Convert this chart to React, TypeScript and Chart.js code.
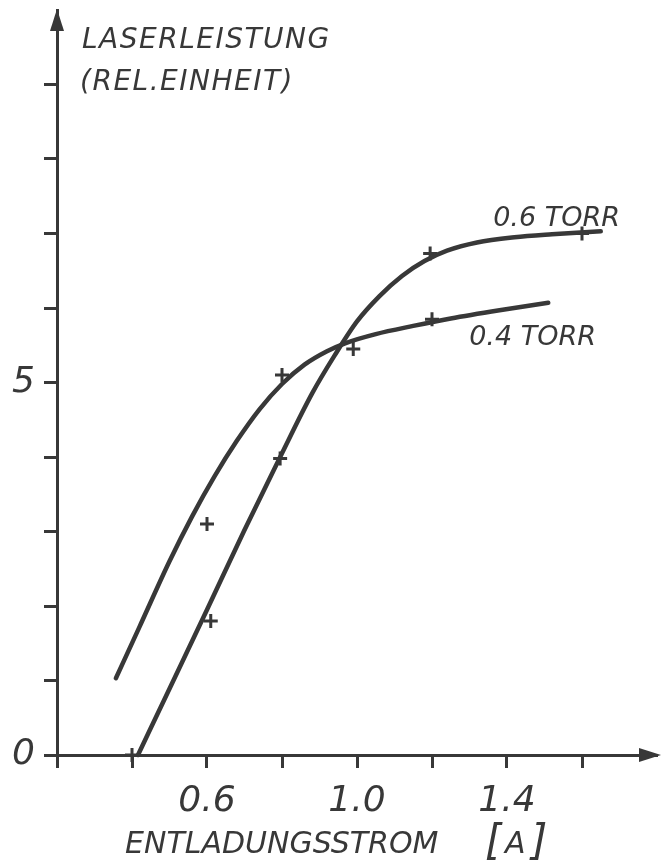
import React, { useEffect, useRef } from 'react';
import { Chart, registerables } from 'chart.js';

Chart.register(...registerables);

const INK = '#383838';
const FONT = '"DejaVu Sans", "Liberation Sans", sans-serif';

// Axis tick labels that carry text
const xTickLabels = [0.6, 1.0, 1.4];
const yTickLabels = [0, 5];

// Hand-drawn fit curves
const curve04X = [0.357, 0.42, 0.5, 0.56, 0.62, 0.68, 0.74, 0.8, 0.86, 0.92, 0.97, 1.05, 1.15, 1.25, 1.38, 1.51];
const curve04Y = [1.03, 1.72, 2.6, 3.2, 3.74, 4.22, 4.64, 4.98, 5.24, 5.42, 5.53, 5.65, 5.76, 5.86, 5.97, 6.07];

const curve06X = [0.416, 0.5, 0.6, 0.7, 0.8, 0.88, 0.94, 1.0, 1.06, 1.12, 1.18, 1.24, 1.32, 1.42, 1.52, 1.65];
const curve06Y = [0.0, 0.89, 1.95, 3.02, 4.05, 4.85, 5.36, 5.82, 6.16, 6.43, 6.63, 6.77, 6.88, 6.95, 6.99, 7.03];

// Measured points (+ marks)
const marks04X = [0.6, 0.8, 0.99, 1.2];
const marks04Y = [3.1, 5.1, 5.45, 5.85];
const marks06X = [0.4, 0.61, 0.795, 1.195, 1.6];
const marks06Y = [0.0, 1.8, 3.98, 6.73, 7.0];

const seriesNames = ['0.4 TORR', '0.6 TORR'];
const yTitle = ['LASERLEISTUNG', '(REL.EINHEIT)'];
const xTitle = 'ENTLADUNGSSTROM';
const xUnit = 'A';

const zip = (xs: number[], ys: number[]) => xs.map((x, i) => ({ x, y: ys[i] }));
const near = (list: number[], v: number) => list.some((t) => Math.abs(t - v) < 1e-6);

const decor = {
  id: 'decor',
  afterDraw(chart: any) {
    const { ctx, chartArea: a, scales } = chart;
    const x = scales.x;
    const y = scales.y;
    ctx.save();
    ctx.fillStyle = INK;
    // arrow heads
    ctx.beginPath();
    ctx.moveTo(a.left, a.top - 1);
    ctx.lineTo(a.left - 7, a.top + 21);
    ctx.lineTo(a.left + 7, a.top + 21);
    ctx.closePath();
    ctx.fill();
    ctx.beginPath();
    ctx.moveTo(a.right + 4, a.bottom);
    ctx.lineTo(a.right - 18, a.bottom - 7);
    ctx.lineTo(a.right - 18, a.bottom + 7);
    ctx.closePath();
    ctx.fill();

    ctx.textBaseline = 'alphabetic';
    ctx.textAlign = 'left';
    const setSpacing = (s: string) => {
      if ('letterSpacing' in ctx) (ctx as any).letterSpacing = s;
    };

    // y title
    ctx.font = `italic 28px ${FONT}`;
    setSpacing('1.5px');
    ctx.fillText(yTitle[0], a.left + 25, a.top + 38);
    ctx.fillText(yTitle[1], a.left + 23, a.top + 80);

    // series labels
    setSpacing('0px');
    ctx.font = `italic 27px ${FONT}`;
    ctx.fillText(seriesNames[1], x.getPixelForValue(1.363), y.getPixelForValue(7.107));
    ctx.fillText(seriesNames[0], x.getPixelForValue(1.299), y.getPixelForValue(5.507));

    // x title
    ctx.font = `italic 30px ${FONT}`;
    ctx.fillText(xTitle, a.left + 68, a.bottom + 98);
    const ux = x.getPixelForValue(1.341);
    ctx.font = `italic 42px ${FONT}`;
    ctx.fillText('[', ux, a.bottom + 100);
    ctx.font = `italic 30px ${FONT}`;
    ctx.fillText(xUnit, ux + 20, a.bottom + 98);
    ctx.font = `italic 42px ${FONT}`;
    ctx.fillText(']', ux + 46, a.bottom + 100);
    ctx.restore();
  },
};

export default function App() {
  const ref = useRef<HTMLCanvasElement | null>(null);

  useEffect(() => {
    if (!ref.current) return;
    const tickFont = { family: 'DejaVu Sans', size: 36, style: 'italic' as const };
    const chart = new Chart(ref.current, {
      type: 'scatter',
      data: {
        datasets: [
          {
            label: seriesNames[0],
            data: zip(curve04X, curve04Y),
            showLine: true,
            borderColor: INK,
            borderWidth: 4.5,
            pointRadius: 0,
            cubicInterpolationMode: 'monotone',
            borderCapStyle: 'round',
            clip: false,
          } as any,
          {
            label: seriesNames[1],
            data: zip(curve06X, curve06Y),
            showLine: true,
            borderColor: INK,
            borderWidth: 4.5,
            pointRadius: 0,
            cubicInterpolationMode: 'monotone',
            borderCapStyle: 'round',
            clip: false,
          } as any,
          {
            label: seriesNames[0] + ' points',
            data: zip(marks04X, marks04Y),
            showLine: false,
            pointStyle: 'cross',
            pointRadius: 7,
            pointBorderWidth: 3,
            borderColor: INK,
            clip: false,
          } as any,
          {
            label: seriesNames[1] + ' points',
            data: zip(marks06X, marks06Y),
            showLine: false,
            pointStyle: 'cross',
            pointRadius: 7,
            pointBorderWidth: 3,
            borderColor: INK,
            clip: false,
          } as any,
        ],
      },
      options: {
        animation: false,
        responsive: false,
        devicePixelRatio: 1,
        events: [],
        layout: { padding: { top: 5, right: 13, left: 0, bottom: 0 } },
        plugins: { legend: { display: false }, tooltip: { enabled: false } },
        scales: {
          x: {
            type: 'linear',
            min: 0.2,
            max: 1.8,
            afterFit: (s: any) => {
              s.height = 110;
              s.paddingLeft = 0;
              s.paddingRight = 0;
            },
            ticks: {
              stepSize: 0.2,
              autoSkip: false,
              maxRotation: 0,
              minRotation: 0,
              padding: 12,
              color: INK,
              font: tickFont,
              callback: (v: any) => (near(xTickLabels, Number(v)) ? Number(v).toFixed(1) : ''),
            },
            grid: {
              drawOnChartArea: false,
              drawTicks: true,
              tickLength: 13,
              tickWidth: 3,
              tickColor: (c: any) => (c.tick && c.tick.value > 1.79 ? 'rgba(0,0,0,0)' : INK),
            },
            border: { display: true, color: INK, width: 3 },
          },
          y: {
            type: 'linear',
            min: 0,
            max: 10,
            afterFit: (s: any) => {
              s.width = 57;
              s.paddingTop = 0;
              s.paddingBottom = 0;
            },
            ticks: {
              stepSize: 1,
              autoSkip: false,
              padding: 9,
              color: INK,
              font: tickFont,
              callback: (v: any) => (near(yTickLabels, Number(v)) ? String(v) : ''),
            },
            grid: {
              drawOnChartArea: false,
              drawTicks: true,
              tickLength: 13,
              tickWidth: 3,
              tickColor: (c: any) => (c.tick && c.tick.value > 9.9 ? 'rgba(0,0,0,0)' : INK),
            },
            border: { display: true, color: INK, width: 3 },
          },
        },
      },
      plugins: [decor],
    } as any);
    return () => chart.destroy();
  }, []);

  return (
    <div style={{ position: 'absolute', left: 0, top: 0, width: 670, height: 865, background: '#fff' }}>
      <canvas ref={ref} width={670} height={865} style={{ display: 'block', width: 670, height: 865 }} />
    </div>
  );
}
